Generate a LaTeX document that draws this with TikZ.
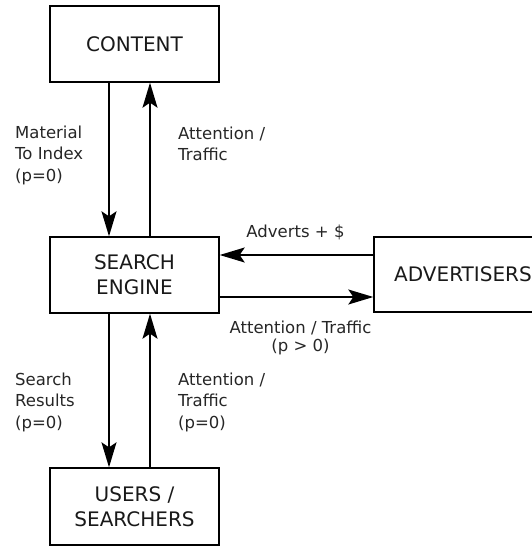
\documentclass[tikz,border=0pt]{standalone}
\usepackage{fontspec}
\setmainfont{DejaVu Sans}
\usetikzlibrary{arrows.meta}
\tikzset{
  box/.style={draw=black, line width=1.4pt, minimum width=169pt, minimum height=76pt, inner sep=0pt, align=center, font=\fontsize{20}{25}\selectfont, text=black!90},
  lbl/.style={inner sep=0pt, font=\fontsize{16.5}{21.5}\selectfont, text=black!85},
  arr/.style={line width=1.5pt, -{Stealth[length=25pt, width=15pt, inset=5pt]}}
}
\begin{document}
\begin{tikzpicture}[x=1pt, y=-1pt]
\useasboundingbox (0,0) rectangle (532,546);
\begin{scope}
\clip (0,0) rectangle (532,546);
\node[box] (content) at (134.5,44) {CONTENT};
\node[box] (se) at (134.5,275) {SEARCH\\ENGINE};
\node[box, minimum height=77pt] (users) at (134.5,506.5) {USERS /\\SEARCHERS};
\node[box, minimum width=178pt, minimum height=75pt] (adv) at (463,274.5) {ADVERTISERS};

\draw[arr] ([xshift=-25.5pt]content.south) -- ([xshift=-25.5pt]se.north);
\draw[arr] ([xshift=15.5pt]se.north) -- ([xshift=15.5pt]content.south);
\draw[arr] ([xshift=-25.5pt]se.south) -- ([xshift=-25.5pt]users.north);
\draw[arr] ([xshift=15.5pt]users.north) -- ([xshift=15.5pt]se.south);
\draw[arr] (adv.west |- 0,255) -- (se.east |- 0,255);
\draw[arr] (se.east |- 0,297) -- (adv.west |- 0,297);

\node[lbl, anchor=west, align=left] (l1) at (15,155) {Material\\To Index\\(p=0)};
\node[lbl, anchor=west, align=left] (l2) at (178,144) {Attention /\\Traffic};
\node[lbl, anchor=center] (l3) at (295.5,232) {Adverts + \$};
\node[lbl, anchor=center, align=center, font=\fontsize{16.5}{18}\selectfont] (l4) at (300.5,338) {Attention / Traffic\\(p > 0)};
\node[lbl, anchor=west, align=left] (l5) at (15,402) {Search\\Results\\(p=0)};
\node[lbl, anchor=west, align=left] (l6) at (178,402) {Attention /\\Traffic\\(p=0)};
\end{scope}
\end{tikzpicture}
\end{document}
